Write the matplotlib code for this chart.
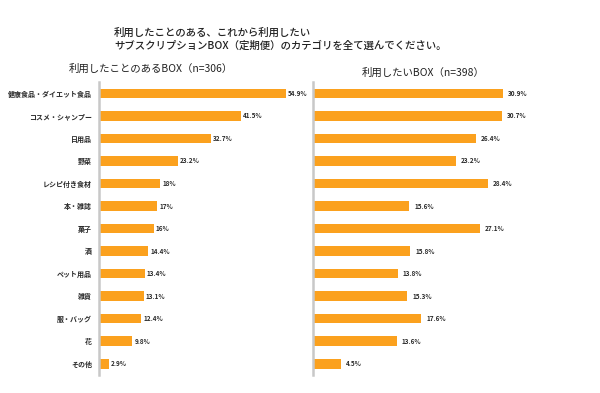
import matplotlib.pyplot as plt

plt.rcParams['font.family'] = ['Noto Sans CJK JP', 'DejaVu Sans']

categories = ['健康食品・ダイエット食品', 'コスメ・シャンプー', '日用品', '野菜', 'レシピ付き食材',
              '本・雑誌', '菓子', '酒', 'ペット用品', '雑貨', '服・バッグ', '花', 'その他']
used = [54.9, 41.5, 32.7, 23.2, 18, 17, 16, 14.4, 13.4, 13.1, 12.4, 9.8, 2.9]
used_labels = ['54.9%', '41.5%', '32.7%', '23.2%', '18%', '17%', '16%', '14.4%', '13.4%',
               '13.1%', '12.4%', '9.8%', '2.9%']
want = [30.9, 30.7, 26.4, 23.2, 28.4, 15.6, 27.1, 15.8, 13.8, 15.3, 17.6, 13.6, 4.5]
want_labels = ['30.9%', '30.7%', '26.4%', '23.2%', '28.4%', '15.6%', '27.1%', '15.8%', '13.8%',
               '15.3%', '17.6%', '13.6%', '4.5%']

bar_color = '#FBA11E'
line_color = '#C8C8C8'

fig = plt.figure(figsize=(6, 3.93), dpi=100)
ax1 = fig.add_axes([0.165, 0.046, 0.345, 0.745])
ax2 = fig.add_axes([0.522, 0.046, 0.41, 0.745])

pos = list(range(len(categories)))

def draw(ax, values, labels, xmax, offset):
    ax.barh(pos, values, height=0.43, color=bar_color)
    for p, v, t in zip(pos, values, labels):
        ax.text(v + offset, p, t, va='center', ha='left', fontsize=4.6,
                fontweight='bold', color='#2a2a2a')
    ax.set_xlim(0, xmax)
    ax.set_ylim(len(categories) - 0.5, -0.5)
    ax.set_xticks([])
    for s in ['top', 'right', 'bottom']:
        ax.spines[s].set_visible(False)
    ax.spines['left'].set_color(line_color)
    ax.spines['left'].set_linewidth(1.8)

draw(ax1, used, used_labels, 60.7, 0.6)
ax1.set_yticks(pos)
ax1.set_yticklabels(categories, fontsize=5, fontweight='bold', color='#2a2a2a')
ax1.tick_params(axis='y', length=0, pad=5)

draw(ax2, want, want_labels, 40, 0.8)
ax2.set_yticks([])

fig.text(0.19, 0.918, '利用したことのある、これから利用したい', fontsize=7.5, fontweight='medium',
         color='#222222', va='center')
fig.text(0.19, 0.885, 'サブスクリプションBOX（定期便）のカテゴリを全て選んでください。', fontsize=7.5,
         fontweight='medium', color='#222222', va='center')
fig.text(0.252, 0.825, '利用したことのあるBOX（n=306）', fontsize=7.5, color='#222222',
         ha='center', va='center')
fig.text(0.705, 0.815, '利用したいBOX（n=398）', fontsize=7.5, color='#222222',
         ha='center', va='center')

fig.savefig('out.png', dpi=100)
